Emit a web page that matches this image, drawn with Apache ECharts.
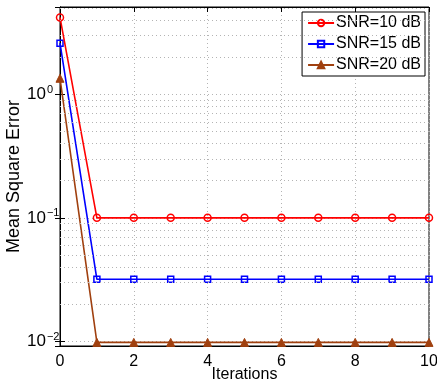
<!DOCTYPE html>
<html>
<head>
<meta charset="utf-8">
<script src="https://cdn.jsdelivr.net/npm/echarts@6/dist/echarts.min.js"></script>
<style>
html,body{margin:0;padding:0;background:#fff;}
#chart{width:437px;height:385px;}
</style>
</head>
<body>
<div id="chart"></div>
<script>
// ---- data ----
const iterations = [0, 1, 2, 3, 4, 5, 6, 7, 8, 9, 10];
const snr10 = [4.2, 0.1, 0.1, 0.1, 0.1, 0.1, 0.1, 0.1, 0.1, 0.1, 0.1];
const snr15 = [2.6, 0.0318, 0.0318, 0.0318, 0.0318, 0.0318, 0.0318, 0.0318, 0.0318, 0.0318, 0.0318];
const snr20 = [1.35, 0.0098, 0.0098, 0.0098, 0.0098, 0.0098, 0.0098, 0.0098, 0.0098, 0.0098, 0.0098];
const seriesNames = ['SNR=10 dB', 'SNR=15 dB', 'SNR=20 dB'];
const xTicks = [0, 2, 4, 6, 8, 10];
const minorGridValues = [0.02, 0.03, 0.04, 0.05, 0.06, 0.07, 0.08, 0.09,
  0.2, 0.3, 0.4, 0.5, 0.6, 0.7, 0.8, 0.9, 2, 3, 4, 5];
const yMin = 0.00916, yMax = 5.1;

const FONT = 'Liberation Sans, Arial, Helvetica, sans-serif';
const GRIDCOL = '#b4b4b4';
const pairs = arr => iterations.map((x, i) => [x, arr[i]]);

function yLabel(v) {
  const e = Math.round(Math.log10(v));
  return '{b|10}{s|' + (e < 0 ? '\u2212' + (-e) : String(e)) + '}';
}

const chart = echarts.init(document.getElementById('chart'), null, {renderer: 'canvas'});
const baseX = {
  type: 'value', min: 0, max: 10, interval: 2,
  axisLine: {show: true, onZero: false, lineStyle: {color: '#000', width: 1}},
  axisTick: {show: true, inside: true, length: 5, lineStyle: {color: '#000'}},
};
const baseY = {
  type: 'log', logBase: 10, min: yMin, max: yMax,
  axisLine: {show: true, lineStyle: {color: '#000', width: 1}},
  axisTick: {show: true, inside: true, length: 5, lineStyle: {color: '#000'}},
};
const option = {
  animation: false,
  backgroundColor: '#fff',
  grid: {left: 60, right: 8, top: 7, bottom: 39, containLabel: false, outerBoundsMode: 'none',
    show: true, borderColor: '#000', borderWidth: 1, backgroundColor: '#fff'},
  legend: {
    data: seriesNames,
    orient: 'vertical', right: 12, top: 12,
    itemWidth: 26, itemHeight: 8, itemGap: 5,
    backgroundColor: '#fff', borderColor: '#000', borderWidth: 1, borderRadius: 0,
    padding: [3, 4, 3, 5],
    textStyle: {fontFamily: FONT, fontSize: 16, color: '#000', padding: [0, 0, 0, -3]}
  },
  xAxis: [
    Object.assign({}, baseX, {
      position: 'bottom',
      name: 'Iterations', nameLocation: 'middle', nameGap: 21, nameMoveOverlap: false,
      nameTextStyle: {fontFamily: FONT, fontSize: 16, color: '#000'},
      axisLabel: {fontFamily: FONT, fontSize: 16, color: '#000', margin: 8,
        formatter: v => xTicks.includes(v) ? String(v) : ''},
      splitLine: {show: true, lineStyle: {type: [1, 3], color: GRIDCOL, width: 1}}
    }),
    Object.assign({}, baseX, {position: 'top', axisLabel: {show: false}, splitLine: {show: false}})
  ],
  yAxis: [
    Object.assign({}, baseY, {
      position: 'left',
      name: 'Mean Square Error', nameLocation: 'middle', nameGap: 37, nameMoveOverlap: false,
      nameTextStyle: {fontFamily: FONT, fontSize: 18, color: '#000'},
      axisLabel: {
        showMinLabel: false, showMaxLabel: false,
        align: 'left', margin: 33,
        formatter: yLabel,
        rich: {
          b: {fontFamily: FONT, fontSize: 17, color: '#000', lineHeight: 20},
          s: {fontFamily: FONT, fontSize: 11, color: '#000', verticalAlign: 'top', lineHeight: 11, padding: [0, 0, 6, 1]}
        }
      },
      splitLine: {show: true, lineStyle: {type: [1, 3], color: GRIDCOL, width: 1}}
    }),
    Object.assign({}, baseY, {position: 'right', axisLabel: {show: false}, splitLine: {show: false}})
  ],
  series: [
    {
      name: '__minor', type: 'line', data: [], z: 1, silent: true,
      markLine: {
        silent: true, symbol: ['none', 'none'], label: {show: false}, animation: false,
        lineStyle: {type: [1, 3], color: GRIDCOL, width: 1},
        emphasis: {disabled: true},
        data: minorGridValues.map(v => ({yAxis: v}))
      }
    },
    {
      name: seriesNames[0], type: 'line', data: pairs(snr10), z: 4,
      symbol: 'circle', symbolSize: 7,
      lineStyle: {color: '#ff0000', width: 1.6},
      itemStyle: {color: 'rgba(255,255,255,0)', borderColor: '#ff0000', borderWidth: 1.5}
    },
    {
      name: seriesNames[1], type: 'line', data: pairs(snr15), z: 3,
      symbol: 'rect', symbolSize: 6,
      lineStyle: {color: '#0000ff', width: 1.6},
      itemStyle: {color: 'rgba(255,255,255,0)', borderColor: '#0000ff', borderWidth: 1.5}
    },
    {
      name: seriesNames[2], type: 'line', data: pairs(snr20), z: 2,
      symbol: 'triangle', symbolSize: 8,
      lineStyle: {color: '#a0400f', width: 1.6},
      itemStyle: {color: '#a0400f', borderColor: '#a0400f', borderWidth: 1}
    }
  ]
};
chart.setOption(option);
</script>
</body>
</html>
